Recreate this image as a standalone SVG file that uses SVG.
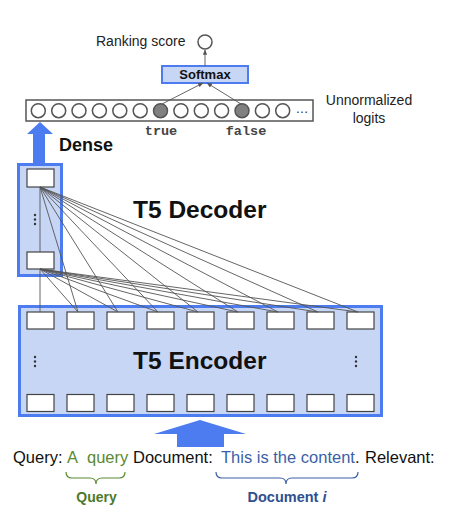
<svg xmlns="http://www.w3.org/2000/svg" width="452" height="524" viewBox="0 0 452 524">
<style>
.sans{font-family:"Liberation Sans",Arial,sans-serif}
.b{font-weight:bold}
.blk{fill:#4d7cf0;stroke:none}
.frame{fill:#c8d6f5;stroke:#4d7cf0;stroke-width:3}
.cell{fill:#fff;stroke:#444;stroke-width:1.2}
.logit{fill:#fff;stroke:#555;stroke-width:1.5}
.logit.on{fill:#808080}
.con{stroke:#555;stroke-width:0.9;fill:none}
.dot{fill:#333}
</style>
<defs>
<marker id="ah" viewBox="0 0 10 10" refX="9" refY="5" markerWidth="6" markerHeight="6" orient="auto-start-reverse">
<path d="M0,1 L10,5 L0,9 z" fill="#555"/>
</marker>
</defs>
<rect width="452" height="524" fill="#fff"/>

<g id="ranking">
<text x="96" y="46" class="sans" font-size="14" fill="#222">Ranking score</text>
<circle cx="205" cy="42" r="7" class="logit"/>
</g>

<g id="softmax">
<rect x="162" y="66" width="86" height="17" fill="#c8d6f5" stroke="#4d7cf0" stroke-width="2"/>
<text x="205" y="79" class="sans b" font-size="13" text-anchor="middle" fill="#111">Softmax</text>
</g>

<g id="logits">
<rect x="26" y="100" width="287" height="21" fill="#fff" stroke="#555" stroke-width="1.5"/>
<circle cx="38.3" cy="110.7" r="7" class="logit"/>
<circle cx="58.7" cy="110.7" r="7" class="logit"/>
<circle cx="79.0" cy="110.7" r="7" class="logit"/>
<circle cx="99.4" cy="110.7" r="7" class="logit"/>
<circle cx="119.8" cy="110.7" r="7" class="logit"/>
<circle cx="140.2" cy="110.7" r="7" class="logit"/>
<circle cx="160.5" cy="110.7" r="7" class="logit on"/>
<circle cx="180.9" cy="110.7" r="7" class="logit"/>
<circle cx="201.3" cy="110.7" r="7" class="logit"/>
<circle cx="221.6" cy="110.7" r="7" class="logit"/>
<circle cx="242.0" cy="110.7" r="7" class="logit on"/>
<circle cx="262.4" cy="110.7" r="7" class="logit"/>
<circle cx="282.7" cy="110.7" r="7" class="logit"/>
<text x="302" y="113" class="sans" font-size="13" text-anchor="middle" fill="#333">…</text>
<text x="161" y="135" font-family="'Liberation Mono',monospace" font-size="13.5" font-weight="bold" text-anchor="middle" fill="#444">true</text>
<text x="246" y="135" font-family="'Liberation Mono',monospace" font-size="13.5" font-weight="bold" text-anchor="middle" fill="#444">false</text>
<text x="369" y="105" class="sans" font-size="14" text-anchor="middle" fill="#222">Unnormalized</text>
<text x="369" y="123" class="sans" font-size="14" text-anchor="middle" fill="#222">logits</text>
</g>

<g id="dense">
<polygon class="blk" points="40,122 53,134 45,134 45,164 33,164 33,134 27,134"/>
<text x="59" y="151" class="sans b" font-size="18" fill="#111">Dense</text>
</g>

<g id="decoder">
<rect x="18.5" y="164.5" width="43" height="111" class="frame"/>
<rect x="27" y="169" width="27" height="18" class="cell"/>
<rect x="27" y="252" width="27" height="17" class="cell"/>
<circle cx="35" cy="215" r="1.2" class="dot"/>
<circle cx="35" cy="219.5" r="1.2" class="dot"/>
<circle cx="35" cy="224" r="1.2" class="dot"/>
<text x="133" y="218" class="sans b" font-size="24.5" fill="#111">T5 Decoder</text>
</g>

<g id="encoder">
<rect x="19.5" y="306.5" width="362" height="109" class="frame"/>
<g>
<rect x="27" y="312" width="27" height="17" class="cell"/>
<rect x="67" y="312" width="27" height="17" class="cell"/>
<rect x="107" y="312" width="27" height="17" class="cell"/>
<rect x="147" y="312" width="27" height="17" class="cell"/>
<rect x="187" y="312" width="27" height="17" class="cell"/>
<rect x="227" y="312" width="27" height="17" class="cell"/>
<rect x="267" y="312" width="27" height="17" class="cell"/>
<rect x="307" y="312" width="27" height="17" class="cell"/>
<rect x="347" y="312" width="27" height="17" class="cell"/>
</g>
<g>
<rect x="27" y="394.5" width="27" height="17" class="cell"/>
<rect x="67" y="394.5" width="27" height="17" class="cell"/>
<rect x="107" y="394.5" width="27" height="17" class="cell"/>
<rect x="147" y="394.5" width="27" height="17" class="cell"/>
<rect x="187" y="394.5" width="27" height="17" class="cell"/>
<rect x="227" y="394.5" width="27" height="17" class="cell"/>
<rect x="267" y="394.5" width="27" height="17" class="cell"/>
<rect x="307" y="394.5" width="27" height="17" class="cell"/>
<rect x="347" y="394.5" width="27" height="17" class="cell"/>
</g>
<circle cx="35" cy="357" r="1.2" class="dot"/>
<circle cx="35" cy="361.5" r="1.2" class="dot"/>
<circle cx="35" cy="366" r="1.2" class="dot"/>
<circle cx="356" cy="357" r="1.2" class="dot"/>
<circle cx="356" cy="361.5" r="1.2" class="dot"/>
<circle cx="356" cy="366" r="1.2" class="dot"/>
<text x="133" y="369" class="sans b" font-size="24.5" fill="#111">T5 Encoder</text>
</g>

<g id="input-arrow">
<polygon class="blk" points="200,420 246,434 224,434 224,447 177,447 177,434 154,434"/>
</g>

<g id="connectors">
<line x1="205" y1="66" x2="205" y2="50" class="con" marker-end="url(#ah)"/>
<line x1="162" y1="104" x2="203" y2="83" class="con" marker-end="url(#ah)"/>
<line x1="241" y1="104" x2="207" y2="83" class="con" marker-end="url(#ah)"/>
<line x1="40" y1="187" x2="40" y2="252" class="con"/>
<line x1="40" y1="269" x2="40" y2="312" class="con"/>
<g>
<line x1="40" y1="187" x2="78" y2="312" class="con"/>
<line x1="40" y1="187" x2="118" y2="312" class="con"/>
<line x1="40" y1="187" x2="158" y2="312" class="con"/>
<line x1="40" y1="187" x2="198" y2="312" class="con"/>
<line x1="40" y1="187" x2="238" y2="312" class="con"/>
<line x1="40" y1="187" x2="278" y2="312" class="con"/>
<line x1="40" y1="187" x2="318" y2="312" class="con"/>
<line x1="40" y1="187" x2="358" y2="312" class="con"/>
</g>
<g>
<line x1="40" y1="269" x2="78" y2="312" class="con"/>
<line x1="40" y1="269" x2="118" y2="312" class="con"/>
<line x1="40" y1="269" x2="158" y2="312" class="con"/>
<line x1="40" y1="269" x2="198" y2="312" class="con"/>
<line x1="40" y1="269" x2="238" y2="312" class="con"/>
<line x1="40" y1="269" x2="278" y2="312" class="con"/>
<line x1="40" y1="269" x2="318" y2="312" class="con"/>
<line x1="40" y1="269" x2="358" y2="312" class="con"/>
</g>
</g>

<g id="input-text" class="sans" font-size="16.5">
<text x="13" y="463" fill="#111">Query:</text>
<text x="67" y="463" fill="#5a8a32">A</text>
<text x="87" y="463" fill="#5a8a32">query</text>
<text x="133" y="463" fill="#111">Document:</text>
<text x="221" y="463" fill="#3c5fa8">This is the content<tspan fill="#111">.</tspan></text>
<text x="365" y="463" fill="#111">Relevant:</text>
</g>

<g id="query-label">
<path d="M66,472 Q66,478 72,478 L90,478 Q96,478 96,484 Q96,478 102,478 L119,478 Q125,478 125,472" fill="none" stroke="#5a8a32" stroke-width="1.2"/>
<text x="96.5" y="502" class="sans b" font-size="14" text-anchor="middle" fill="#4d7a2a">Query</text>
</g>

<g id="document-label">
<path d="M216,472 Q216,478 222,478 L280,478 Q286,478 286,484 Q286,478 292,478 L352,478 Q358,478 358,472" fill="none" stroke="#3c5fa8" stroke-width="1.2"/>
<text x="287" y="502" class="sans b" font-size="14.5" text-anchor="middle" fill="#2f4f8f">Document <tspan font-style="italic">i</tspan></text>
</g>
</svg>
